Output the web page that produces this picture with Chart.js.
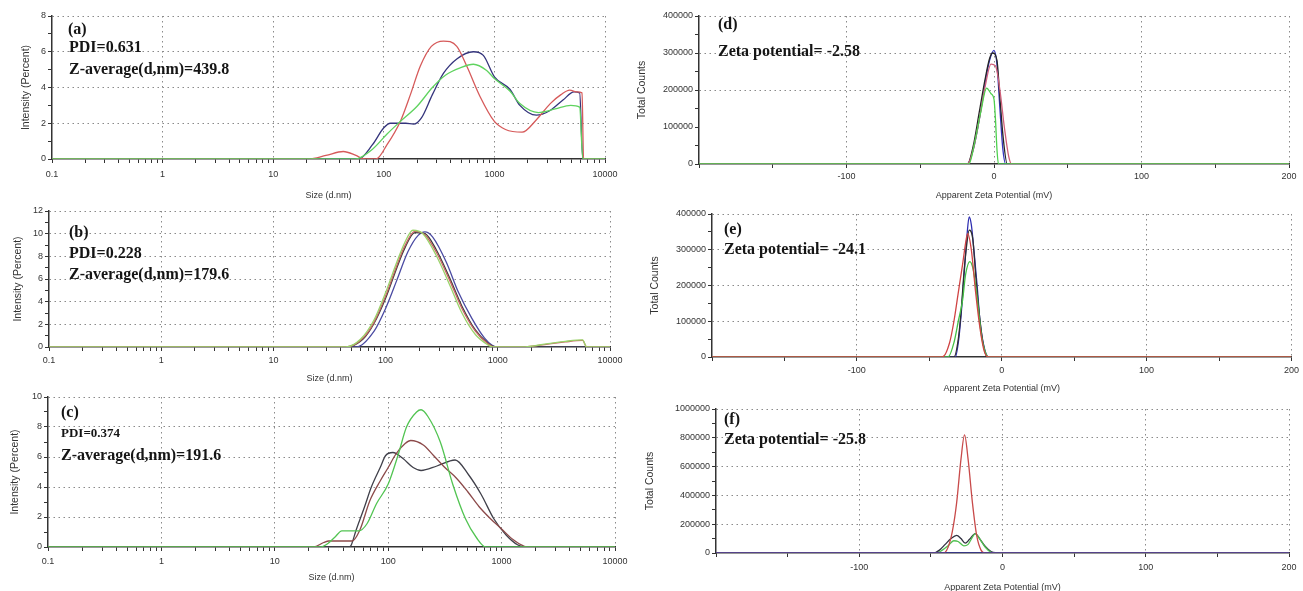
<!DOCTYPE html>
<html>
<head>
<meta charset="utf-8">
<script src="https://cdn.jsdelivr.net/npm/chart.js@4.4.1/dist/chart.umd.min.js"></script>
<style>
html, body { margin: 0; padding: 0; background: #fff; width: 1303px; height: 591px; overflow: hidden; }
</style>
</head>
<body>
<script>
// ---- (a) size distribution, PDI 0.631
const aGreenX = [0.1, 55, 79, 107, 141, 200, 275, 363, 490, 646, 851, 1000, 1380, 1700, 2500, 3550, 4900, 5900, 6300, 10000];
const aGreenY = [0, 0, 0.55, 1.4, 2.1, 2.95, 4.0, 4.7, 5.1, 5.3, 4.95, 4.5, 3.8, 3.1, 2.6, 2.8, 3.0, 2.9, 0, 0];
const aRedX = [0.1, 21, 30, 43, 56, 65, 85, 107, 141, 174, 214, 269, 347, 457, 562, 741, 1000, 1260, 1780, 2400, 3200, 4000, 4800, 5600, 6200, 6400, 10000];
const aRedY = [0, 0, 0.2, 0.42, 0.2, 0.02, 0, 0.8, 2.1, 3.6, 5.2, 6.3, 6.6, 6.3, 5.2, 3.5, 2.1, 1.65, 1.5, 2.2, 3.1, 3.6, 3.85, 3.75, 3.7, 0, 0];
const aBlueX = [0.1, 59, 79, 100, 115, 158, 186, 219, 275, 347, 457, 646, 794, 1000, 1380, 1700, 2400, 3160, 4170, 5250, 5900, 6300, 10000];
const aBlueY = [0, 0, 0.8, 1.75, 2.0, 2.0, 1.95, 2.3, 3.6, 4.8, 5.6, 6.0, 5.8, 4.6, 3.9, 3.0, 2.45, 2.7, 3.3, 3.75, 3.7, 0, 0];

// ---- (b) size distribution, PDI 0.228
const bRedX = [0.1, 44, 63, 79, 100, 126, 148, 182, 224, 282, 372, 479, 631, 813, 933, 1650, 2800, 4000, 5700, 6200, 10000];
const bRedY = [0, 0, 0.8, 2.2, 4.5, 7.2, 8.9, 10.2, 9.9, 8.4, 5.9, 3.4, 1.4, 0.3, 0, 0, 0.25, 0.45, 0.58, 0, 0];
const bGreenX = [0.1, 44, 60, 79, 100, 126, 148, 175, 215, 282, 372, 479, 631, 813, 900, 1650, 2800, 4000, 5700, 6200, 10000];
const bGreenY = [0, 0, 0.7, 2.4, 4.8, 7.5, 9.2, 10.3, 10.0, 8.1, 5.5, 3.0, 1.1, 0.2, 0, 0, 0.3, 0.5, 0.62, 0, 0];
const bBlackX = [0.1, 44, 63, 79, 100, 126, 148, 182, 224, 282, 372, 479, 631, 813, 950, 10000];
const bBlackY = [0, 0, 0.7, 2.1, 4.3, 7.0, 8.7, 10.1, 10.0, 8.6, 6.1, 3.6, 1.5, 0.35, 0, 0];
const bBlueX = [0.1, 55, 79, 100, 126, 158, 195, 224, 263, 347, 447, 589, 759, 891, 1000, 10000];
const bBlueY = [0, 0, 1.4, 3.4, 5.9, 8.4, 9.85, 10.15, 9.7, 7.5, 4.8, 2.5, 0.8, 0.15, 0, 0];

// ---- (c) size distribution, PDI 0.374
const cGreenX = [0.1, 25, 29, 34, 39, 55, 65, 79, 100, 123, 145, 178, 195, 224, 288, 372, 479, 603, 724, 10000];
const cGreenY = [0, 0, 0.2, 0.67, 1.07, 1.07, 1.55, 2.9, 4.2, 6.2, 8.0, 9.0, 9.15, 8.7, 7.0, 4.15, 1.9, 0.6, 0, 0];
const cRedX = [0.1, 22, 27, 30, 48, 56, 69, 85, 100, 117, 141, 158, 204, 251, 316, 398, 501, 631, 794, 1000, 1260, 1585, 1780, 10000];
const cRedY = [0, 0, 0.3, 0.4, 0.4, 1.1, 3.1, 4.4, 5.3, 6.2, 6.9, 7.1, 6.8, 6.1, 5.3, 4.6, 3.7, 2.7, 1.9, 1.2, 0.5, 0.05, 0, 0];
const cBlackX = [0.1, 45, 47, 52, 62, 71, 85, 95, 110, 135, 166, 195, 269, 389, 513, 661, 851, 1096, 1380, 1620, 10000];
const cBlackY = [0, 0, 0.1, 1.1, 2.7, 4.0, 5.3, 6.1, 6.3, 5.9, 5.3, 5.1, 5.4, 5.8, 4.8, 3.5, 1.9, 0.8, 0.15, 0, 0];

// ---- (d) zeta potential -2.58
const dGreenX = [-200, -17, -13, -9, -5, -2, 0, 1, 2, 3, 200];
const dGreenY = [0, 0, 60000, 140000, 205000, 190000, 175000, 120000, 40000, 0, 0];
const dRedX = [-200, -18, -14, -10, -6, -2, 1, 4, 7, 10, 12, 200];
const dRedY = [0, 0, 40000, 120000, 210000, 270000, 265000, 200000, 100000, 20000, 0, 0];
const dBlackX = [-200, -18, -14, -10, -6, -3, -1, 2, 4, 6, 9, 200];
const dBlackY = [0, 0, 50000, 140000, 230000, 285000, 300000, 280000, 180000, 80000, 0, 0];
const dBlueX = [-200, -18, -14, -10, -6, -3, 0, 2, 4, 6, 8, 200];
const dBlueY = [0, 0, 40000, 120000, 220000, 280000, 307000, 270000, 150000, 40000, 0, 0];

// ---- (e) zeta potential -24.1
const eRedX = [-200, -41, -36, -33, -30, -27, -24.5, -23.5, -21, -18, -15, -12, -9, 200];
const eRedY = [0, 0, 40000, 100000, 180000, 260000, 330000, 345000, 300000, 180000, 80000, 15000, 0, 0];
const eGreenX = [-200, -37, -33, -30, -27, -25, -22, -20, -18, -16, -14, -11, -9, 200];
const eGreenY = [0, 0, 40000, 100000, 160000, 230000, 267000, 250000, 200000, 130000, 60000, 10000, 0, 0];
const eBlackX = [-200, -33, -30, -28, -26, -24, -22.5, -20, -18, -16, -13, -10, 200];
const eBlackY = [0, 0, 50000, 130000, 240000, 320000, 355000, 330000, 230000, 140000, 40000, 0, 0];
const eBlueX = [-200, -32, -30, -28, -26, -24, -22.5, -21, -19, -17, -15, -12, -9, 200];
const eBlueY = [0, 0, 40000, 120000, 230000, 340000, 392000, 370000, 290000, 200000, 100000, 25000, 0, 0];

// ---- (f) zeta potential -25.8
const fBlueX = [-200, 200];
const fBlueY = [0, 0];
const fGreenX = [-200, -46, -42, -38, -34, -31, -27, -24, -21, -19, -16, -12, -8, -5, 200];
const fGreenY = [0, 0, 20000, 50000, 85000, 80000, 50000, 60000, 110000, 135000, 100000, 40000, 5000, 0, 0];
const fBlackX = [-200, -48, -44, -40, -36, -32, -29, -26, -23, -19, -16, -12, -8, -5, 8, 11, 200];
const fBlackY = [0, 0, 20000, 60000, 100000, 123000, 100000, 68000, 95000, 135000, 100000, 45000, 10000, 3000, 3000, 0, 0];
const fRedX = [-200, -41, -38, -35, -32, -29, -26.5, -24, -21, -18, -15, -12, 200];
const fRedY = [0, 0, 40000, 150000, 350000, 650000, 820000, 650000, 350000, 120000, 20000, 0, 0];

// axis labels
const sizeLabels = { 0.1: '0.1', 1: '1', 10: '10', 100: '100', 1000: '1000', 10000: '10000' };
const zetaLabels = { '-100': '-100', 0: '0', 100: '100', 200: '200' };

// log ticks: decades plus 2..9
const logTicks = [];
for (let e = -1; e < 4; e++) {
  for (let m = 1; m < 10; m++) logTicks.push(+(m * Math.pow(10, e)).toPrecision(3));
}
logTicks.push(10000);

const GRID = '#8a8a8a';
const NONE = 'rgba(0,0,0,0)';
const TICKFONT = { family: 'Liberation Sans', size: 9 };
const TITLEFONT = { family: 'Liberation Sans', size: 9 };
const YTITLEFONT = { family: 'Liberation Sans', size: 10.5 };

function pts(xs, ys) {
  return xs.map((x, i) => ({ x: x, y: ys[i] }));
}

function line(xs, ys, color) {
  return {
    data: pts(xs, ys), borderColor: color, borderWidth: 1.3,
    pointRadius: 0, fill: false, cubicInterpolationMode: 'monotone'
  };
}

// text like "(a)" / "PDI=..." written on the plot
const notesPlugin = {
  id: 'notes',
  afterDraw(chart) {
    const notes = chart.options.plugins.notes;
    if (!notes) return;
    const ctx = chart.ctx;
    ctx.save();
    ctx.fillStyle = '#151515';
    ctx.textBaseline = 'middle';
    notes.items.forEach(n => {
      ctx.font = 'bold ' + n.size + 'px "Liberation Serif", "Times New Roman", serif';
      ctx.fillText(n.text, n.x - notes.left, n.y - notes.top);
    });
    ctx.restore();
  }
};

function panel(p) {
  const [bl, bt, bw, bh] = p.box;
  const [pl, pt, pr, pb] = p.plot;
  const div = document.createElement('div');
  div.style.cssText = 'position:absolute;left:' + bl + 'px;top:' + bt + 'px;width:' + bw + 'px;height:' + bh + 'px';
  const cv = document.createElement('canvas');
  div.appendChild(cv);
  document.body.appendChild(div);

  let x;
  if (p.log) {
    x = {
      type: 'logarithmic', min: 0.1, max: 10000,
      afterBuildTicks: s => { s.ticks = logTicks.map(v => ({ value: v })); },
      ticks: { autoSkip: false, maxRotation: 0, padding: p.xPad, color: '#333', font: TICKFONT,
        callback: v => sizeLabels[v] || '' },
      grid: { color: c => (c.tick && sizeLabels[c.tick.value] && c.tick.value > 0.1) ? GRID : NONE,
        tickColor: '#333', tickLength: 4, lineWidth: 1 },
      title: { display: true, text: 'Size (d.nm)', color: '#333', font: TITLEFONT, padding: 0 }
    };
  } else {
    x = {
      type: 'linear', min: -200, max: 200,
      ticks: { stepSize: 50, autoSkip: false, maxRotation: 0, padding: p.xPad, color: '#333', font: TICKFONT,
        callback: v => zetaLabels[v] || '' },
      grid: { color: c => (c.tick && zetaLabels[c.tick.value]) ? GRID : NONE,
        tickColor: '#333', tickLength: 4, lineWidth: 1 },
      title: { display: true, text: 'Apparent Zeta Potential (mV)', color: '#333', font: TITLEFONT, padding: 0 }
    };
  }
  x.border = { color: '#333', width: 1.5, dash: [1.5, 3.5] };
  x.afterFit = s => { s.height = bt + bh - pb; };

  const y = {
    min: 0, max: p.yMax,
    ticks: { stepSize: p.yStep, autoSkip: false, padding: 2, color: '#333', font: TICKFONT,
      callback: v => (v % p.yLabelEvery === 0) ? String(v) : '' },
    grid: { color: c => (c.tick && p.yGrid.includes(c.tick.value)) ? GRID : NONE,
      tickColor: '#333', tickLength: 4, lineWidth: 1 },
    border: { color: '#333', width: 1.5, dash: [1.5, 3.5] },
    title: { display: true, text: p.yTitle, color: '#333', font: YTITLEFONT, padding: { top: p.yTitlePad } },
    afterFit: s => { s.width = pl - bl; }
  };

  new Chart(cv, {
    type: 'line',
    data: { datasets: p.sets },
    options: {
      responsive: true, maintainAspectRatio: false, animation: false,
      layout: { padding: { top: pt - bt, right: bl + bw - pr, left: 0, bottom: 0 } },
      plugins: {
        legend: { display: false }, tooltip: { enabled: false },
        notes: { left: bl, top: bt, items: p.notes }
      },
      scales: { x: x, y: y }
    },
    plugins: [notesPlugin]
  });
}

panel({
  box: [0, 8, 630, 193], plot: [52, 16, 605, 159], log: true, xPad: 6,
  yMax: 8, yStep: 1, yLabelEvery: 2, yGrid: [2, 4, 6, 8], yTitle: 'Intensity (Percent)', yTitlePad: 20,
  sets: [line(aGreenX, aGreenY, '#5fd35f'), line(aRedX, aRedY, '#d65a5a'), line(aBlueX, aBlueY, '#34347c')],
  notes: [
    { text: '(a)', x: 68, y: 30, size: 16 },
    { text: 'PDI=0.631', x: 69, y: 48, size: 16 },
    { text: 'Z-average(d,nm)=439.8', x: 69, y: 70, size: 16 }
  ]
});

panel({
  box: [0, 203, 630, 181], plot: [49, 211, 610, 347], log: true, xPad: 4,
  yMax: 12, yStep: 1, yLabelEvery: 2, yGrid: [2, 4, 6, 8, 10, 12], yTitle: 'Intensity (Percent)', yTitlePad: 12,
  sets: [line(bGreenX, bGreenY, '#9ad36a'), line(bRedX, bRedY, '#c86464'), line(bBlackX, bBlackY, '#3c3c3c'), line(bBlueX, bBlueY, '#4a4aa2')],
  notes: [
    { text: '(b)', x: 69, y: 233, size: 16 },
    { text: 'PDI=0.228', x: 69, y: 254, size: 16 },
    { text: 'Z-average(d,nm)=179.6', x: 69, y: 275, size: 16 }
  ]
});

panel({
  box: [0, 389, 635, 194], plot: [48, 397, 615, 547], log: true, xPad: 5,
  yMax: 10, yStep: 1, yLabelEvery: 2, yGrid: [2, 4, 6, 8, 10], yTitle: 'Intensity (Percent)', yTitlePad: 9,
  sets: [line(cGreenX, cGreenY, '#52c452'), line(cRedX, cRedY, '#8c4a4a'), line(cBlackX, cBlackY, '#40404a')],
  notes: [
    { text: '(c)', x: 61, y: 413, size: 16 },
    { text: 'PDI=0.374', x: 61, y: 434, size: 13 },
    { text: 'Z-average(d,nm)=191.6', x: 61, y: 456, size: 16 }
  ]
});

panel({
  box: [630, 8, 673, 193], plot: [699, 16, 1289, 164], log: false, xPad: 3,
  yMax: 400000, yStep: 50000, yLabelEvery: 100000, yGrid: [200000, 300000, 400000], yTitle: 'Total Counts', yTitlePad: 6,
  sets: [line(dGreenX, dGreenY, '#4dd04d'), line(dRedX, dRedY, '#d0607a'), line(dBlackX, dBlackY, '#262626'), line(dBlueX, dBlueY, '#3535c0')],
  notes: [
    { text: '(d)', x: 718, y: 25, size: 16 },
    { text: 'Zeta potential= -2.58', x: 718, y: 52, size: 16 }
  ]
});

panel({
  box: [630, 206, 673, 188], plot: [712, 214, 1293, 357], log: false, xPad: 4,
  yMax: 400000, yStep: 50000, yLabelEvery: 100000, yGrid: [100000, 200000, 300000, 400000], yTitle: 'Total Counts', yTitlePad: 19,
  sets: [line(eRedX, eRedY, '#d04444'), line(eGreenX, eGreenY, '#44c044'), line(eBlackX, eBlackY, '#303030'), line(eBlueX, eBlueY, '#2c2cb0')],
  notes: [
    { text: '(e)', x: 724, y: 230, size: 16 },
    { text: 'Zeta potential= -24.1', x: 724, y: 250, size: 16 }
  ]
});

panel({
  box: [630, 401, 673, 192], plot: [716, 409, 1289, 553], log: false, xPad: 5,
  yMax: 1000000, yStep: 100000, yLabelEvery: 200000, yGrid: [200000, 400000, 600000, 800000, 1000000], yTitle: 'Total Counts', yTitlePad: 14,
  sets: [line(fBlueX, fBlueY, '#3a3aa0'), line(fRedX, fRedY, '#c84a4a'), line(fGreenX, fGreenY, '#50c050'), line(fBlackX, fBlackY, '#303040')],
  notes: [
    { text: '(f)', x: 724, y: 420, size: 16 },
    { text: 'Zeta potential= -25.8', x: 724, y: 440, size: 16 }
  ]
});
</script>
</body>
</html>
